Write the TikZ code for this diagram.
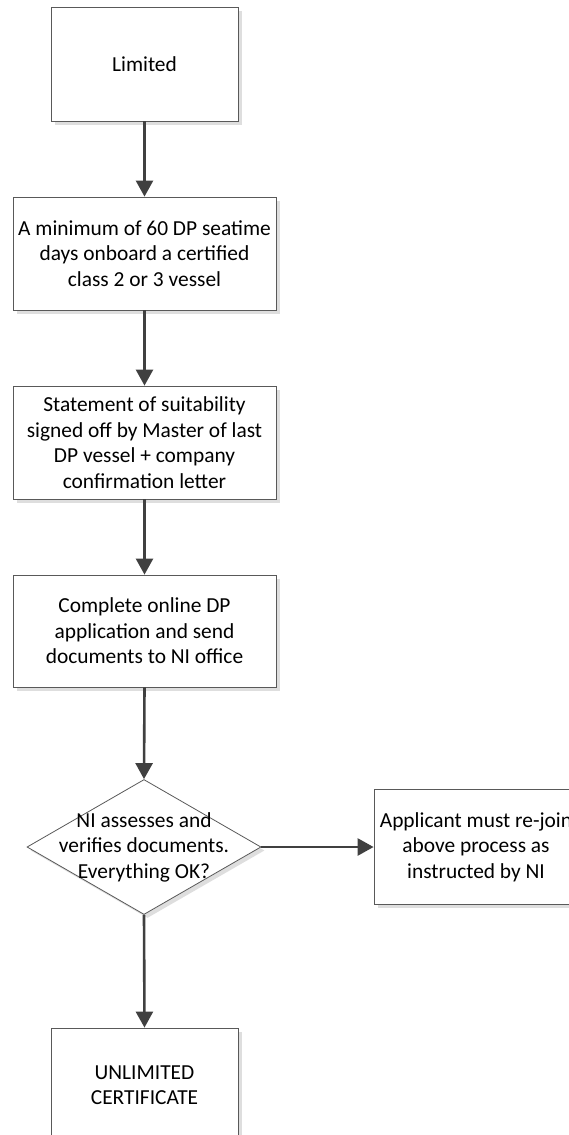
\documentclass[tikz,border=0pt]{standalone}
\usepackage{fontspec}
\setmainfont{Carlito}
\usetikzlibrary{arrows.meta,shapes.geometric,shadows}
\tikzset{
  box/.style={draw=black!65, line width=0.8pt, fill=white, align=center, inner sep=0pt,
    font=\fontsize{21.4}{25.5}\selectfont,
    drop shadow={shadow xshift=3.5pt, shadow yshift=-3.5pt, fill=black!13, opacity=1}},
  dec/.style={diamond, draw=black!65, line width=0.8pt, fill=white, inner sep=0pt,
    drop shadow={shadow xshift=3.5pt, shadow yshift=-3.5pt, fill=black!13, opacity=1}},
  lbl/.style={align=center, inner sep=0pt, font=\fontsize{21.4}{25.5}\selectfont},
  conn/.style={draw=black!75, line width=2.6pt, -{Triangle[length=16pt, width=17pt]}, shorten >=0pt}
}
\begin{document}
\begin{tikzpicture}[x=1pt,y=-1pt]
\useasboundingbox (0,0) rectangle (569,1135);
\clip (0,0) rectangle (569,1135);
\node[box, minimum width=187pt, minimum height=114pt] (lim) at (144.5,64) {Limited};
\node[box, minimum width=263pt, minimum height=113pt] (b2) at (144.5,253.5) {A minimum of 60 DP seatime\\days onboard a certified\\class 2 or 3 vessel};
\node[box, minimum width=263pt, minimum height=113pt] (b3) at (144.5,442.5) {Statement of suitability\\signed off by Master of last\\DP vessel + company\\confirmation letter};
\node[box, minimum width=263pt, minimum height=112pt] (b4) at (144.5,631) {Complete online DP\\application and send\\documents to NI office};
\node[dec, minimum width=234pt, minimum height=135pt] (dia) at (144,847) {};
\node[lbl] (dialbl) at (144,847) {NI assesses and\\verifies documents.\\Everything OK?};
\node[box, minimum width=204pt, minimum height=115pt] (rb) at (476,847) {Applicant must re-join\\above process as\\instructed by NI};
\node[box, minimum width=187pt, minimum height=114pt] (unl) at (144.5,1085) {UNLIMITED\\CERTIFICATE};
\draw[conn] (lim.south) -- (b2.north);
\draw[conn] (b2.south) -- (b3.north);
\draw[conn] (b3.south) -- (b4.north);
\draw[conn] (b4.south) -- (dia.north);
\draw[conn] (dia.east) -- (rb.west);
\draw[conn] (dia.south) -- (unl.north);
\end{tikzpicture}
\end{document}
